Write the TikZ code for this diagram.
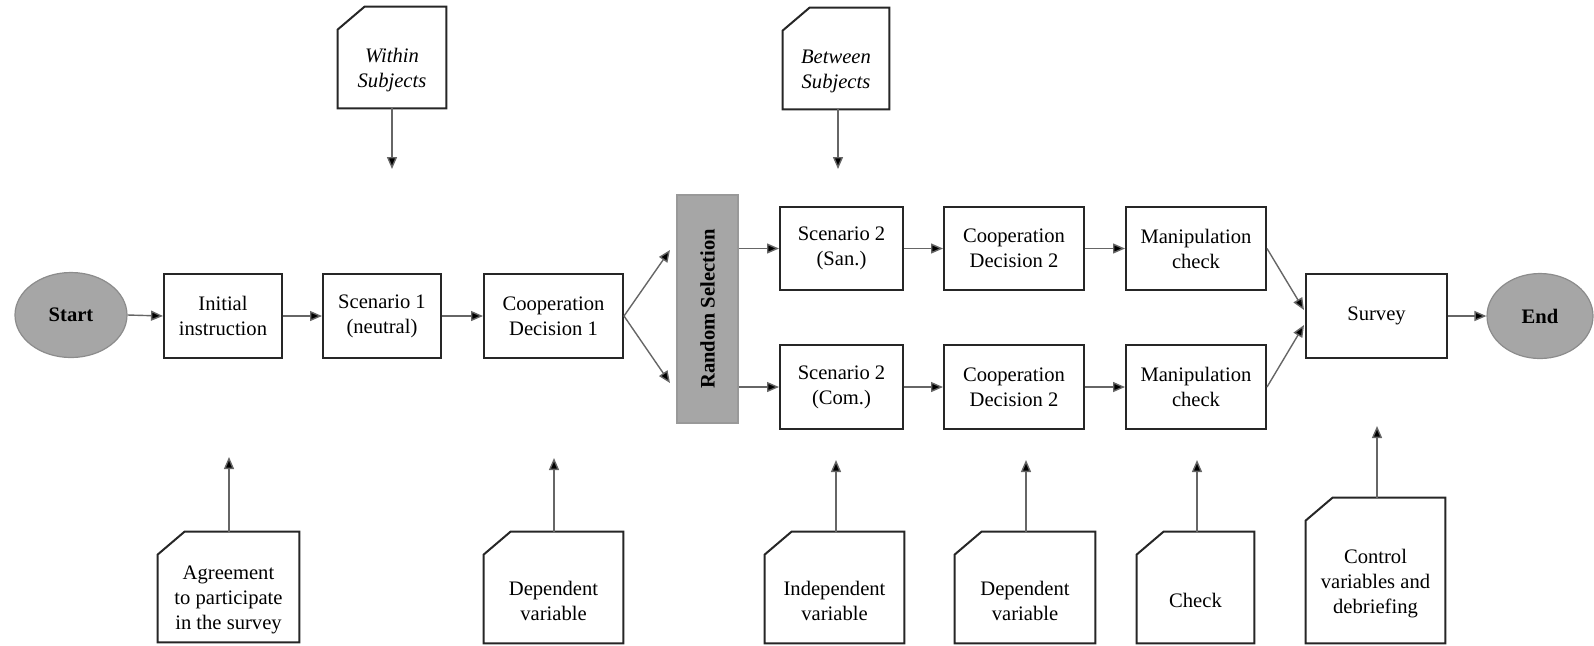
\documentclass[tikz,border=0pt]{standalone}
\usepackage{fontspec}
\setmainfont{Liberation Serif}
\usetikzlibrary{arrows.meta,shapes.geometric,calc}
\begin{document}
\begin{tikzpicture}[x=0.5pt,y=-0.5pt,
  every node/.style={font=\fontsize{10.3}{12.5}\selectfont, align=center, inner sep=0pt},
  box/.style={draw=black!85, line width=1pt, fill=white},
  term/.style={ellipse, draw=black!45, line width=0.6pt, fill=black!35, font=\fontsize{10.3}{12.5}\selectfont\bfseries},
  randbox/.style={draw=black!40, line width=0.8pt, fill=black!35},
  cardarea/.style={draw=none},
  cardline/.style={draw=black!85, line width=1pt},
  arr/.style={draw=black!60, line width=0.7pt, -{Triangle[length=6pt,width=5pt,fill=black]}},
]
\useasboundingbox (0,0) rectangle (1594,645);
% ---- terminals
\node[term, minimum width=56pt, minimum height=42.5pt] (start) at (71,315) {Start};
\node[term, minimum width=53pt, minimum height=42.5pt] (end) at (1540,316) {End};
% ---- main row
\node[box, minimum width=59pt, minimum height=42pt] (init) at (223,316) {Initial\\instruction};
\node[box, minimum width=59pt, minimum height=42pt] (sc1) at (382,316) {Scenario 1\\(neutral)};
\node[box, minimum width=69.5pt, minimum height=42pt] (cd1) at (553.5,316) {Cooperation\\Decision 1};
\node[randbox, minimum width=30.5pt, minimum height=114pt] (rnd) at (707.5,309) {};
\node[rotate=90, font=\fontsize{10.3}{12.5}\selectfont\bfseries] (rndtxt) at (rnd.center) {Random Selection};
\node[box, minimum width=61.5pt, minimum height=41.5pt] (s2a) at (841.5,248.5) {Scenario 2\\(San.)};
\node[box, minimum width=70pt, minimum height=41.5pt] (cd2a) at (1014,248.5) {Cooperation\\Decision 2};
\node[box, minimum width=70pt, minimum height=41.5pt] (mca) at (1196,248.5) {Manipulation\\check};
\node[box, minimum width=61.5pt, minimum height=42pt] (s2b) at (841.5,387) {Scenario 2\\(Com.)};
\node[box, minimum width=70pt, minimum height=42pt] (cd2b) at (1014,387) {Cooperation\\Decision 2};
\node[box, minimum width=70pt, minimum height=42pt] (mcb) at (1196,387) {Manipulation\\check};
\node[box, minimum width=70.5pt, minimum height=42pt] (survey) at (1376.5,316) {Survey};
% ---- cards
\newcommand{\mycard}[6]{% name, cx, cy, w, h, text
  \node[cardarea, minimum width=#4*0.5pt, minimum height=#5*0.5pt] (#1) at (#2,#3) {};
  \draw[cardline] (#1.south west) -- ($(#1.north west)+(0,23)$) -- ($(#1.north west)+(27,0)$) -- (#1.north east) -- (#1.south east) -- cycle;
  \node (#1txt) at ($(#1.center)+(0,13)$) {#6};
}
\mycard{within}{392}{57.5}{108}{101}{\itshape Within\\\itshape Subjects}
\mycard{between}{836}{58.5}{106}{101}{\itshape Between\\\itshape Subjects}
\mycard{agree}{228.5}{587}{141}{110}{Agreement\\to participate\\in the survey}
\mycard{dep1}{553.5}{587.5}{139}{111}{Dependent\\variable}
\mycard{indep}{834.5}{587.5}{139}{111}{Independent\\variable}
\mycard{dep2}{1025}{587.5}{140}{111}{Dependent\\variable}
\mycard{check}{1195.5}{587.5}{117}{111}{Check}
\mycard{ctrl}{1375.5}{570.5}{139}{145}{Control\\variables and\\debriefing}
% ---- free ends
\coordinate (fu) at (670,250);
\coordinate (fd) at (670,383);
\coordinate (ma) at (1304,310);
\coordinate (mb) at (1304,325);
\coordinate (wi) at (392,169);
\coordinate (be) at (838,169);
\coordinate (ag) at (229,457);
\coordinate (d1) at (554,458);
\coordinate (in) at (836,460);
\coordinate (d2) at (1026,460);
\coordinate (ch) at (1197,460);
\coordinate (ct) at (1377,426);
% ---- connectors
\draw[arr] (start.east) -- (init.west);
\draw[arr] (init.east) -- (sc1.west);
\draw[arr] (sc1.east) -- (cd1.west);
\draw[arr] (cd1.east) -- (fu);
\draw[arr] (cd1.east) -- (fd);
\draw[arr] (s2a.west -| rnd.east) -- (s2a.west);
\draw[arr] (s2b.west -| rnd.east) -- (s2b.west);
\draw[arr] (s2a.east) -- (cd2a.west);
\draw[arr] (cd2a.east) -- (mca.west);
\draw[arr] (s2b.east) -- (cd2b.west);
\draw[arr] (cd2b.east) -- (mcb.west);
\draw[arr] (mca.east) -- (ma);
\draw[arr] (mcb.east) -- (mb);
\draw[arr] (survey.east) -- (end.west);
\draw[arr] (within.south) -- (wi);
\draw[arr] (between.south -| be) -- (be);
\draw[arr] (agree.north -| ag) -- (ag);
\draw[arr] (dep1.north -| d1) -- (d1);
\draw[arr] (indep.north -| in) -- (in);
\draw[arr] (dep2.north -| d2) -- (d2);
\draw[arr] (check.north -| ch) -- (ch);
\draw[arr] (ctrl.north -| ct) -- (ct);
\end{tikzpicture}
\end{document}
